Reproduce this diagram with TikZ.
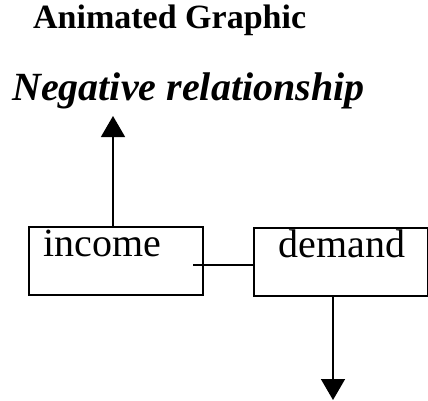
\documentclass[tikz,border=0pt]{standalone}
\usepackage{fontspec}
\setmainfont{Liberation Serif}
\usetikzlibrary{arrows.meta}
\begin{document}
\begin{tikzpicture}[x=1pt,y=-1pt,
  boxnode/.style={draw, line width=1.6pt, anchor=north west, inner ysep=0pt,
    minimum width=174pt, text height=30pt, text depth=38pt, align=left,
    font=\fontsize{40}{40}\selectfont},
  conn/.style={line width=1.5pt},
  arr/.style={line width=1.5pt, -{Triangle[width=24pt,length=21pt]}}]
\useasboundingbox (0,0) rectangle (428,400);
\node[anchor=base west, font=\bfseries\fontsize{34}{34}\selectfont, inner sep=0pt] (title) at (33,28) {Animated Graphic};
\node[anchor=base west, font=\bfseries\itshape\fontsize{40}{40}\selectfont, inner sep=0pt] (neg) at (12,100) {Negative relationship};
\node[boxnode, inner xsep=15pt, text width=144pt] (income) at (28,226) {income};
\node[boxnode, inner xsep=25pt, text width=124pt] (demand) at (253,227) {demand};
\coordinate (cstart) at (193,265);
\coordinate (uptip) at (113,116);
\coordinate (dntip) at (333,400);
\draw[conn] (cstart) -- (cstart -| demand.west);
\draw[arr] (income.north -| uptip) -- (uptip);
\draw[arr] (demand.south -| dntip) -- (dntip);
\end{tikzpicture}
\end{document}
